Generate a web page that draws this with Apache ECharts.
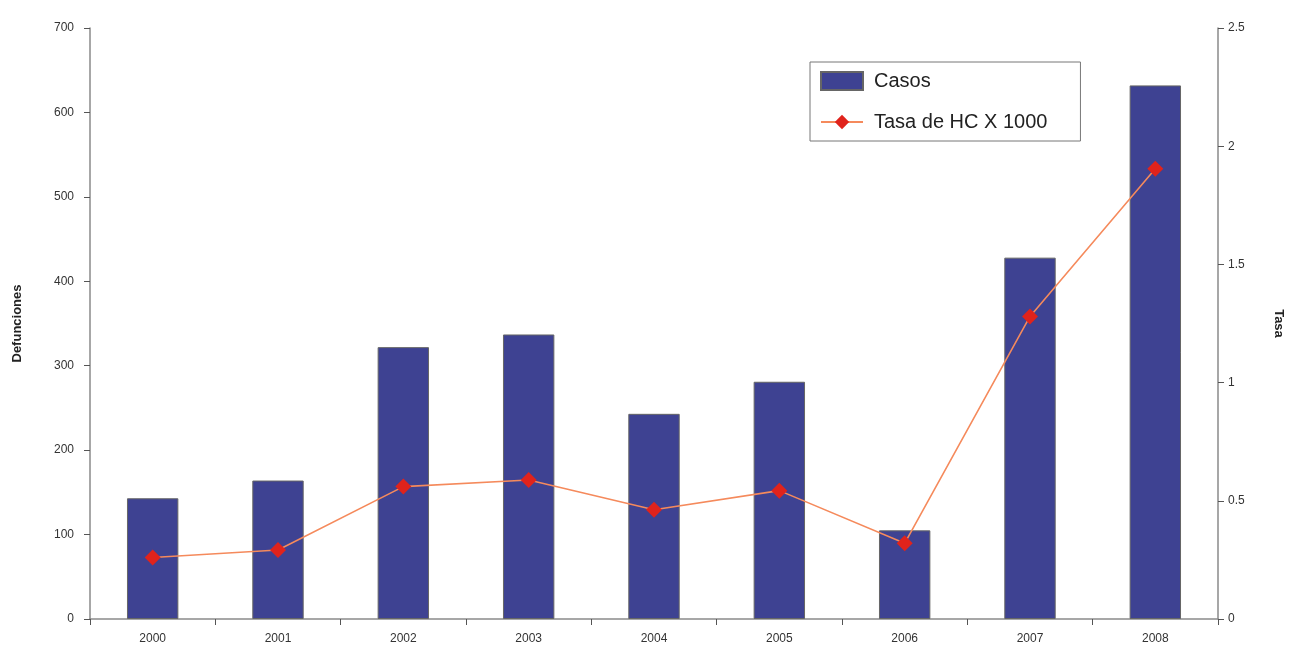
<!DOCTYPE html>
<html><head><meta charset="utf-8">
<script src="https://cdn.jsdelivr.net/npm/echarts@6/dist/echarts.min.js"></script>
<style>html,body{margin:0;padding:0;background:#fff}#c{width:1293px;height:656px}</style>
</head><body><div id="c"></div>
<script>
var years = ['2000','2001','2002','2003','2004','2005','2006','2007','2008'];
var casos = [143, 164, 322, 337, 243, 281, 105, 428, 632];
var tasa = [0.26, 0.292, 0.56, 0.588, 0.462, 0.543, 0.32, 1.28, 1.905];
var leftTicks = {min: 0, max: 700, interval: 100};
var rightTicks = {min: 0, max: 2.5, interval: 0.5};

var chart = echarts.init(document.getElementById('c'));
var axisCol = '#8a8a8a';
chart.setOption({
  animation: false,
  backgroundColor: '#fff',
  textStyle: {fontFamily: 'Liberation Sans, Arial, sans-serif'},
  grid: {left: 90, right: 73, top: 28, bottom: 37, containLabel: false},
  legend: {
    orient: 'vertical', left: 810, top: 62,
    backgroundColor: '#fff', borderColor: '#777', borderWidth: 1,
    padding: [9, 33, 9, 10], itemGap: 21, itemWidth: 42, itemHeight: 18,
    textStyle: {fontSize: 20, color: '#222', padding: [0, 0, 0, 6]},
    data: [
      {name: 'Casos', icon: 'rect'},
      {name: 'Tasa de HC X 1000'}
    ]
  },
  xAxis: {
    type: 'category', data: years,
    axisLine: {lineStyle: {color: axisCol, width: 1.5}},
    axisTick: {show: true, length: 6, lineStyle: {color: '#555'}},
    axisLabel: {color: '#333', fontSize: 12, margin: 14}
  },
  yAxis: [
    {
      type: 'value', min: leftTicks.min, max: leftTicks.max, interval: leftTicks.interval,
      name: 'Defunciones', nameLocation: 'middle', nameGap: 66, nameRotate: 90,
      nameTextStyle: {fontWeight: 'bold', fontSize: 13, color: '#222'},
      axisLine: {show: true, lineStyle: {color: axisCol, width: 1.5}},
      axisTick: {show: true, length: 6, lineStyle: {color: '#555'}},
      axisLabel: {color: '#333', fontSize: 12, margin: 16},
      splitLine: {show: false}
    },
    {
      type: 'value', min: rightTicks.min, max: rightTicks.max, interval: rightTicks.interval,
      name: 'Tasa', nameLocation: 'middle', nameGap: 54, nameRotate: -90,
      nameTextStyle: {fontWeight: 'bold', fontSize: 13, color: '#222'},
      axisLine: {show: true, lineStyle: {color: axisCol, width: 1.5}},
      axisTick: {show: true, length: 6, lineStyle: {color: '#555'}},
      axisLabel: {color: '#333', fontSize: 12, margin: 10},
      splitLine: {show: false}
    }
  ],
  series: [
    {
      name: 'Casos', type: 'bar', data: casos, yAxisIndex: 0, barWidth: '41%',
      itemStyle: {color: '#3e4292', borderColor: '#666', borderWidth: 1}
    },
    {
      name: 'Tasa de HC X 1000', type: 'line', data: tasa, yAxisIndex: 1,
      symbol: 'diamond', symbolSize: 16, z: 5,
      lineStyle: {color: '#f58a5c', width: 1.6},
      itemStyle: {color: '#e0231c'}
    }
  ]
});
</script></body></html>
